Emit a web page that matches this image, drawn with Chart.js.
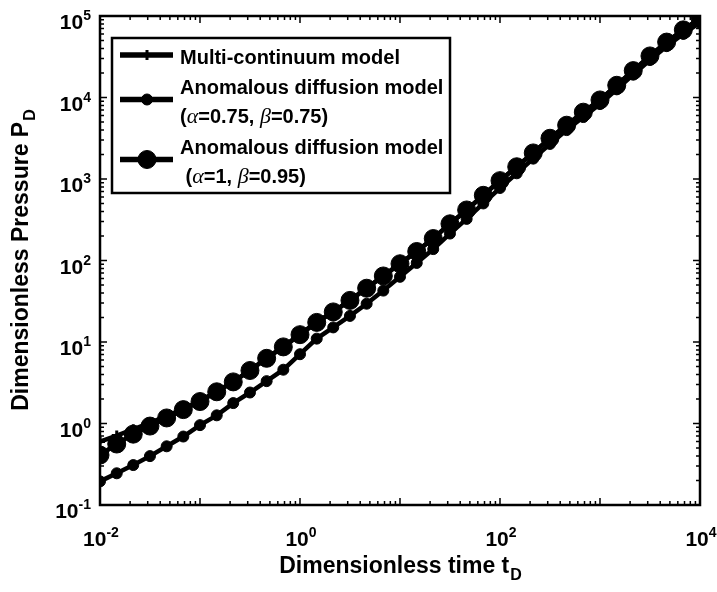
<!DOCTYPE html>
<html>
<head>
<meta charset="utf-8">
<script src="https://cdn.jsdelivr.net/npm/chart.js@4.4.1/dist/chart.umd.min.js"></script>
<style>
  html, body { margin: 0; padding: 0; background: #fff; }
  #wrap { width: 717px; height: 592px; }
</style>
</head>
<body>
<div id="wrap"><canvas id="pdChart"></canvas></div>
<script>
// ------------------------------------------------------------
// DATA
// ------------------------------------------------------------
const timeD = [
  0.01, 0.0147, 0.0215, 0.0316, 0.0464, 0.0681,
  0.1, 0.147, 0.215, 0.316, 0.464, 0.681,
  1, 1.47, 2.15, 3.16, 4.64, 6.81,
  10, 14.7, 21.5, 31.6, 46.4, 68.1,
  100, 147, 215, 316, 464, 681,
  1000, 1470, 2150, 3160, 4640, 6810,
  10000
];

const multiContinuum = [
  0.60, 0.71, 0.85, 1.02, 1.23, 1.51,
  1.91, 2.48, 3.27, 4.50, 6.35, 8.75,
  12.4, 17.5, 23.5, 32.5, 45.8, 64.8,
  91.5, 130, 187, 283, 418, 633,
  958, 1417, 2095, 3170, 4580, 6620,
  9350, 14150, 21420, 32400, 47900, 67700,
  93500
];

const anomalous075 = [
  0.195, 0.245, 0.309, 0.398, 0.525, 0.692,
  0.955, 1.26, 1.78, 2.40, 3.31, 4.57,
  7.08, 11.0, 15.1, 20.9, 29.5, 42.7,
  63.1, 93.3, 138, 214, 324, 501,
  776, 1175, 1778, 2692, 3981, 5754,
  8318, 12590, 19050, 28840, 42660, 60260,
  83180
];

const anomalous1 = [
  0.41, 0.56, 0.74, 0.93, 1.17, 1.48,
  1.86, 2.45, 3.24, 4.47, 6.31, 8.71,
  12.3, 17.4, 23.4, 32.4, 45.7, 64.6,
  91.2, 129, 186, 282, 417, 631,
  955, 1413, 2089, 3162, 4571, 6607,
  9333, 14125, 21380, 32360, 47860, 67610,
  93330
];

const xDecades = [0.01, 0.1, 1, 10, 100, 1000, 10000];
const yDecades = [0.1, 1, 10, 100, 1000, 10000, 100000];
const xTickValues = [0.01, 1, 100, 10000];
const xTickExps = ["-2", "0", "2", "4"];
const yTickValues = [0.1, 1, 10, 100, 1000, 10000, 100000];
const yTickExps = ["-1", "0", "1", "2", "3", "4", "5"];

const legendEntries = [
  { dataset: 0, lines: ["Multi-continuum model"] },
  { dataset: 1, lines: ["Anomalous diffusion model", "(α=0.75, β=0.75)"] },
  { dataset: 2, lines: ["Anomalous diffusion model", " (α=1, β=0.95)"] }
];

const SANS = '"Liberation Sans", Arial, sans-serif';
const SERIF = '"Liberation Serif", "Times New Roman", serif';

// ------------------------------------------------------------
// HELPERS
// ------------------------------------------------------------
function pts(ys) {
  return timeD.map((t, i) => ({ x: t, y: ys[i] }));
}

// text with italic serif greek letters
function drawRich(ctx, str, x, y, size) {
  const parts = str.split(/([αβ])/);
  parts.forEach(p => {
    if (!p) return;
    ctx.font = (p === "α" || p === "β")
      ? `italic ${size + 2}px ${SERIF}`
      : `bold ${size}px ${SANS}`;
    ctx.fillText(p, x, y);
    x += ctx.measureText(p).width;
  });
}

function drawPower(ctx, exp, x, y, align) {
  // "10" + superscript, x is the anchor (right edge or centre)
  ctx.font = `bold 21px ${SANS}`;
  const wBase = ctx.measureText("10").width;
  ctx.font = `bold 14px ${SANS}`;
  const wExp = ctx.measureText(exp).width;
  const total = wBase + wExp;
  let left = align === "right" ? x - total : x - total / 2;
  ctx.textAlign = "left";
  ctx.textBaseline = "alphabetic";
  ctx.font = `bold 21px ${SANS}`;
  ctx.fillText("10", left, y);
  ctx.font = `bold 14px ${SANS}`;
  ctx.fillText(exp, left + wBase, y - 9);
}

function drawMarker(ctx, ds, x, y) {
  ctx.save();
  ctx.fillStyle = ds.pointBackgroundColor;
  ctx.strokeStyle = ds.pointBorderColor;
  ctx.lineWidth = ds.pointBorderWidth;
  const r = ds.pointRadius;
  if (ds.pointStyle === "cross") {
    ctx.beginPath();
    ctx.moveTo(x, y - r); ctx.lineTo(x, y + r);
    ctx.moveTo(x - r, y); ctx.lineTo(x + r, y);
    ctx.stroke();
  } else {
    ctx.beginPath();
    ctx.arc(x, y, r, 0, Math.PI * 2);
    ctx.fill();
    ctx.stroke();
  }
  ctx.restore();
}

// ------------------------------------------------------------
// FRAME / TICKS / LABELS / LEGEND
// ------------------------------------------------------------
const framePlugin = {
  id: "frame",
  afterDraw(chart) {
    const { ctx, chartArea: a, scales } = chart;
    const xs = scales.x, ys = scales.y;
    ctx.save();
    ctx.strokeStyle = "#000";
    ctx.fillStyle = "#000";

    // box
    ctx.lineWidth = 2.5;
    ctx.strokeRect(a.left, a.top, a.right - a.left, a.bottom - a.top);

    // ticks, inward on all sides
    ctx.lineWidth = 1.5;
    ctx.beginPath();
    xDecades.forEach((d, i) => {
      const ks = i < xDecades.length - 1 ? [1, 2, 3, 4, 5, 6, 7, 8, 9] : [1];
      ks.forEach(k => {
        const px = xs.getPixelForValue(d * k);
        const len = k === 1 ? 7 : 4;
        ctx.moveTo(px, a.bottom); ctx.lineTo(px, a.bottom - len);
        ctx.moveTo(px, a.top); ctx.lineTo(px, a.top + len);
      });
    });
    yDecades.forEach((d, i) => {
      const ks = i < yDecades.length - 1 ? [1, 2, 3, 4, 5, 6, 7, 8, 9] : [1];
      ks.forEach(k => {
        const py = ys.getPixelForValue(d * k);
        const len = k === 1 ? 7 : 4;
        ctx.moveTo(a.left, py); ctx.lineTo(a.left + len, py);
        ctx.moveTo(a.right, py); ctx.lineTo(a.right - len, py);
      });
    });
    ctx.stroke();

    // tick labels
    xTickValues.forEach((v, i) => {
      drawPower(ctx, xTickExps[i], xs.getPixelForValue(v) + 1, a.bottom + 41, "center");
    });
    yTickValues.forEach((v, i) => {
      drawPower(ctx, yTickExps[i], a.left - 9, ys.getPixelForValue(v) + 13, "right");
    });

    // axis titles
    ctx.textBaseline = "alphabetic";
    ctx.textAlign = "left";
    ctx.font = `bold 23px ${SANS}`;
    const xt = "Dimensionless time t";
    const wx = ctx.measureText(xt).width;
    ctx.font = `bold 16px ${SANS}`;
    const wxs = ctx.measureText("D").width;
    let x0 = (a.left + a.right) / 2 - (wx + wxs) / 2;
    ctx.font = `bold 23px ${SANS}`;
    ctx.fillText(xt, x0, 573);
    ctx.font = `bold 16px ${SANS}`;
    ctx.fillText("D", x0 + wx + 1, 580);

    ctx.save();
    ctx.translate(28, (a.top + a.bottom) / 2);
    ctx.rotate(-Math.PI / 2);
    ctx.font = `bold 23px ${SANS}`;
    const yt = "Dimensionless Pressure P";
    const wy = ctx.measureText(yt).width;
    let y0 = -(wy + wxs) / 2;
    ctx.fillText(yt, y0, 0);
    ctx.font = `bold 16px ${SANS}`;
    ctx.fillText("D", y0 + wy + 1, 7);
    ctx.restore();

    // legend
    const lx = a.left + 12, ly = a.top + 22, lw = 338, lh = 155;
    ctx.fillStyle = "#fff";
    ctx.fillRect(lx, ly, lw, lh);
    ctx.lineWidth = 2.5;
    ctx.strokeRect(lx, ly, lw, lh);
    ctx.fillStyle = "#000";

    const rowTop = [20, 50, 110];
    legendEntries.forEach((e, i) => {
      const ds = chart.data.datasets[e.dataset];
      const textMid = ly + rowTop[i] + (e.lines.length - 1) * 14.5;
      const sy = textMid - 3;
      ctx.strokeStyle = ds.borderColor;
      ctx.lineWidth = ds.borderWidth + 1;
      ctx.beginPath();
      ctx.moveTo(lx + 8, sy);
      ctx.lineTo(lx + 61, sy);
      ctx.stroke();
      drawMarker(ctx, ds, lx + 35, sy);
      ctx.textAlign = "left";
      ctx.textBaseline = "middle";
      e.lines.forEach((ln, j) => {
        drawRich(ctx, ln, lx + 68, ly + rowTop[i] + j * 29, 20);
      });
    });
    ctx.restore();
  }
};

// ------------------------------------------------------------
// CHART
// ------------------------------------------------------------
new Chart(document.getElementById("pdChart"), {
  type: "line",
  data: {
    datasets: [
      {
        label: "Multi-continuum model",
        data: pts(multiContinuum),
        borderColor: "#000",
        borderWidth: 4.5,
        pointStyle: "cross",
        pointRadius: 5,
        pointBorderWidth: 3,
        pointBackgroundColor: "#000",
        pointBorderColor: "#000"
      },
      {
        label: "Anomalous diffusion model (α=0.75, β=0.75)",
        data: pts(anomalous075),
        borderColor: "#000",
        borderWidth: 4.5,
        pointStyle: "circle",
        pointRadius: 5.5,
        pointBorderWidth: 1,
        pointBackgroundColor: "#000",
        pointBorderColor: "#000"
      },
      {
        label: "Anomalous diffusion model (α=1, β=0.95)",
        data: pts(anomalous1),
        borderColor: "#000",
        borderWidth: 4.5,
        pointStyle: "circle",
        pointRadius: 9,
        pointBorderWidth: 1,
        pointBackgroundColor: "#000",
        pointBorderColor: "#000"
      }
    ]
  },
  options: {
    responsive: true,
    maintainAspectRatio: false,
    animation: false,
    layout: { padding: { left: 100, right: 17, top: 16, bottom: 87 } },
    plugins: {
      legend: { display: false },
      tooltip: { enabled: false }
    },
    scales: {
      x: {
        type: "logarithmic",
        min: 0.01,
        max: 10000,
        ticks: { display: false },
        grid: { display: false, drawTicks: false },
        border: { display: false }
      },
      y: {
        type: "logarithmic",
        min: 0.1,
        max: 100000,
        ticks: { display: false },
        grid: { display: false, drawTicks: false },
        border: { display: false }
      }
    }
  },
  plugins: [framePlugin]
});
</script>
</body>
</html>
